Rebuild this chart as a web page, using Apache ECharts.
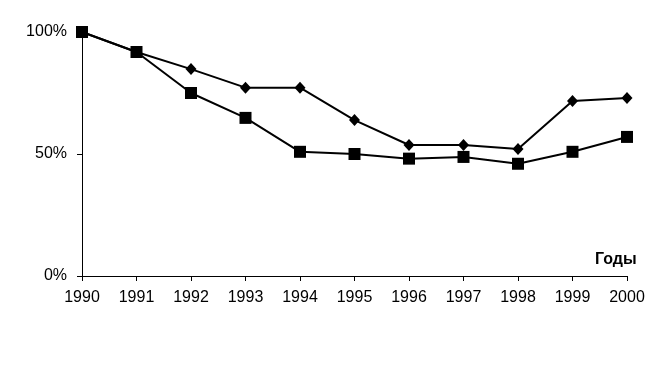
<!DOCTYPE html>
<html>
<head>
<meta charset="utf-8">
<script src="https://cdn.jsdelivr.net/npm/echarts@6/dist/echarts.min.js"></script>
<style>
  html, body { margin: 0; padding: 0; background: #fff; }
  #chart { width: 664px; height: 377px; }
</style>
</head>
<body>
<div id="chart"></div>
<script>
var years = ['1990', '1991', '1992', '1993', '1994', '1995', '1996', '1997', '1998', '1999', '2000'];
var diamondValues = [100, 91.8, 84.8, 77.2, 77.2, 63.9, 53.7, 53.7, 52.0, 71.7, 73.0];
var squareValues = [100, 91.8, 75.0, 64.8, 50.9, 50.0, 48.1, 48.8, 46.0, 50.9, 57.0];
var yTicks = [0, 50, 100];

var myChart = echarts.init(document.getElementById('chart'));

var option = {
    animation: false,
    grid: { left: 82, right: 37, top: 32, bottom: 101 },
    xAxis: {
        type: 'category',
        data: years,
        boundaryGap: false,
        axisLine: { lineStyle: { color: '#000', width: 1 } },
        axisTick: { show: true, length: 5, lineStyle: { color: '#000' } },
        axisLabel: { color: '#000', fontSize: 16, fontFamily: 'Liberation Sans, Arial', margin: 14 },
        splitLine: { show: false }
    },
    yAxis: {
        type: 'value',
        min: yTicks[0],
        max: yTicks[yTicks.length - 1],
        interval: 50,
        axisLine: { show: true, lineStyle: { color: '#000', width: 1 } },
        axisTick: { show: true, length: 5, lineStyle: { color: '#000' } },
        axisLabel: { color: '#000', fontSize: 16, fontFamily: 'Liberation Sans, Arial', margin: 15, formatter: '{value}%' },
        splitLine: { show: false }
    },
    graphic: [
        {
            type: 'text',
            left: 595,
            top: 252,
            style: { text: 'Годы', font: 'bold 16px Liberation Sans, Arial', fill: '#000' }
        }
    ],
    series: [
        {
            type: 'line',
            data: diamondValues,
            symbol: 'diamond',
            symbolSize: [11, 12],
            lineStyle: { color: '#000', width: 2 },
            itemStyle: { color: '#000' }
        },
        {
            type: 'line',
            data: squareValues,
            symbol: 'rect',
            symbolSize: 12,
            lineStyle: { color: '#000', width: 2 },
            itemStyle: { color: '#000' }
        }
    ]
};

myChart.setOption(option);

window.addEventListener('resize', function () {
    myChart.resize();
}, false);
</script>
</body>
</html>
